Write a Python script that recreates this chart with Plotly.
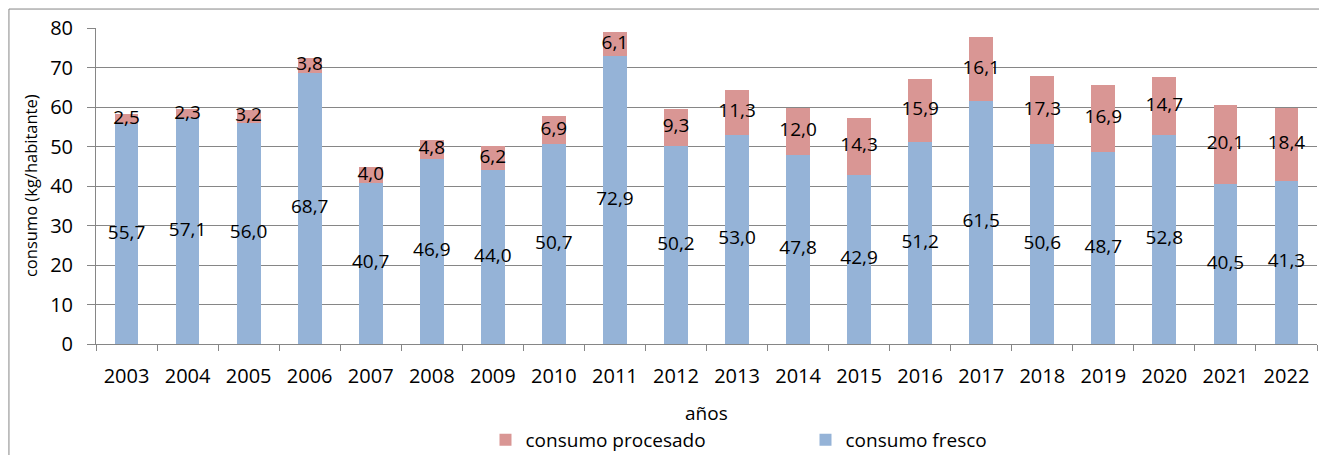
import plotly.graph_objects as go

anios = ["2003", "2004", "2005", "2006", "2007", "2008", "2009", "2010", "2011", "2012",
         "2013", "2014", "2015", "2016", "2017", "2018", "2019", "2020", "2021", "2022"]
fresco = [55.7, 57.1, 56.0, 68.7, 40.7, 46.9, 44.0, 50.7, 72.9, 50.2,
          53.0, 47.8, 42.9, 51.2, 61.5, 50.6, 48.7, 52.8, 40.5, 41.3]
procesado = [2.5, 2.3, 3.2, 3.8, 4.0, 4.8, 6.2, 6.9, 6.1, 9.3,
             11.3, 12.0, 14.3, 15.9, 16.1, 17.3, 16.9, 14.7, 20.1, 18.4]

azul = "#95b3d7"
rosa = "#d99694"
gris = "#868686"
fuente = "Open Sans"


def coma(v):
    return f"{v:.1f}".replace(".", ",")


fig = go.Figure()

fig.add_trace(go.Bar(x=anios, y=fresco, name="consumo fresco", marker_color=azul,
                     marker_line_width=0, width=0.39))
fig.add_trace(go.Bar(x=anios, y=procesado, name="consumo procesado", marker_color=rosa,
                     marker_line_width=0, width=0.39))

# etiquetas centradas en cada segmento
fig.add_trace(go.Scatter(x=anios, y=[f / 2 for f in fresco], mode="text",
                         text=[coma(v) for v in fresco], showlegend=False, hoverinfo="skip",
                         textfont=dict(family=fuente, size=19, color="black")))
fig.add_trace(go.Scatter(x=anios, y=[f + p / 2 for f, p in zip(fresco, procesado)], mode="text",
                         text=[coma(v) for v in procesado], showlegend=False, hoverinfo="skip",
                         textfont=dict(family=fuente, size=19, color="black")))

# la página añade 8 px de margen al cuerpo, por eso la figura es algo menor
fig.update_layout(
    barmode="stack",
    width=1319, height=447,
    margin=dict(l=88, r=10, t=20, b=111),
    plot_bgcolor="white", paper_bgcolor="white",
    font=dict(family=fuente, size=19, color="black"),
    legend=dict(orientation="h", x=0.319, xanchor="left", yref="container", y=0.0336,
                yanchor="middle", traceorder="reversed", font=dict(size=19),
                entrywidth=275, entrywidthmode="pixels", bgcolor="rgba(0,0,0,0)"),
    xaxis=dict(showline=True, linecolor=gris, automargin=False, range=[-0.5, 19.5],
               ticks="outside", tickson="boundaries", ticklen=6, tickcolor=gris,
               tickfont=dict(size=20), ticklabelstandoff=14),
    yaxis=dict(range=[0, 80], automargin=False,
               dtick=10, showgrid=True, gridcolor=gris, gridwidth=1, showline=True,
               linecolor=gris, ticks="outside", ticklen=8, tickcolor=gris,
               tickfont=dict(size=20), ticklabelstandoff=10, zeroline=False),
    annotations=[
        dict(text="años", xref="paper", yref="paper", x=0.5, y=-0.218,
             xanchor="center", yanchor="middle", showarrow=False, font=dict(size=19)),
        dict(text="consumo (kg/habitante)", xref="paper", yref="paper", x=-0.054, y=0.5,
             xanchor="center", yanchor="middle", textangle=-90, showarrow=False,
             font=dict(size=16.5)),
    ],
    shapes=[dict(type="rect", xref="paper", yref="paper", x0=-0.0713, x1=1.0057,
                 y0=-0.36, y1=1.06, line=dict(color=gris, width=1), layer="below")],
)

fig.write_html("out.html")
